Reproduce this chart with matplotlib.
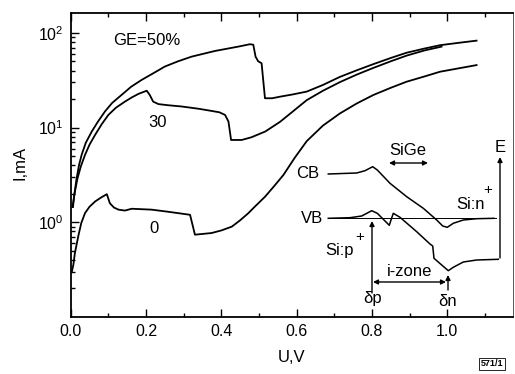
import matplotlib
matplotlib.use("Agg")
import matplotlib.pyplot as plt
import numpy as np

plt.rcParams['font.family'] = ['Liberation Sans', 'DejaVu Sans']
plt.rcParams['mathtext.default'] = 'regular'

# ---- data (U in V, I in mA) ----
u50 = [0.006, 0.009, 0.015, 0.022, 0.029, 0.04, 0.056, 0.072, 0.091, 0.11, 0.135, 0.16,
       0.188, 0.22, 0.25, 0.285, 0.321, 0.383, 0.445, 0.476, 0.485, 0.491, 0.498, 0.507,
       0.516, 0.535, 0.556, 0.59, 0.627, 0.67, 0.715, 0.76, 0.804, 0.85, 0.892, 0.94,
       0.981, 1.03, 1.078]
i50 = [1.45, 1.86, 2.8, 4.0, 5.15, 6.9, 9.1, 11.5, 14.8, 18.2, 22.1, 26.9,
       31.8, 37.6, 44.1, 50.1, 56.1, 64.4, 71.6, 75.9, 75.0, 56.1, 50.1, 47.8,
       20.4, 20.4, 21.2, 22.4, 24.0, 28.2, 34.3, 40.3, 46.8, 54.3, 61.7, 68.4,
       74.1, 78.5, 82.8]

u30 = [0.005, 0.01, 0.018, 0.027, 0.038, 0.05, 0.065, 0.082, 0.10, 0.12, 0.144, 0.163,
       0.18, 0.202, 0.21, 0.219, 0.233, 0.26, 0.295, 0.34, 0.374, 0.395, 0.41, 0.419,
       0.426, 0.454, 0.48, 0.517, 0.556, 0.59, 0.627, 0.67, 0.715, 0.76, 0.804, 0.85,
       0.892, 0.94, 0.985]
i30 = [1.45, 2.0, 2.9, 3.9, 5.15, 6.6, 8.4, 10.8, 13.6, 16.2, 18.8, 20.9,
       22.7, 24.5, 22.1, 18.8, 17.7, 17.2, 16.7, 15.8, 15.0, 14.5, 13.6, 11.6,
       7.4, 7.4, 7.9, 9.1, 11.5, 14.8, 19.5, 24.5, 30.2, 36.3, 42.7, 50.1,
       57.5, 65.3, 71.6]

u0 = [0.003, 0.007, 0.011, 0.02, 0.028, 0.038, 0.05, 0.065, 0.08, 0.096, 0.104, 0.115,
      0.127, 0.144, 0.162, 0.215, 0.26, 0.317, 0.33, 0.374, 0.40, 0.428, 0.45, 0.472,
      0.485, 0.516, 0.54, 0.565, 0.595, 0.627, 0.67, 0.715, 0.76, 0.804, 0.85, 0.892,
      0.94, 0.981, 1.03, 1.078]
i0 = [0.30, 0.355, 0.47, 0.71, 0.98, 1.25, 1.46, 1.66, 1.82, 1.98, 1.59, 1.43,
      1.36, 1.33, 1.39, 1.36, 1.29, 1.20, 0.74, 0.77, 0.82, 0.90, 1.05, 1.25,
      1.41, 1.86, 2.4, 3.16, 4.8, 7.2, 10.5, 14.1, 18.0, 22.1, 26.3, 30.5,
      34.7, 38.9, 42.2, 45.7]

curve_labels = ["GE=50%", "30", "0"]
xticks = [0.0, 0.2, 0.4, 0.6, 0.8, 1.0]

# band diagram sketch (figure pixel coordinates, origin top-left)
cb_x = [328.3, 356.7, 365, 372.7, 377.3, 390, 406.7, 423.3, 436.7, 442.7, 447.3, 453.3, 463.3, 476.7, 494]
cb_y = [174, 173, 170.7, 166.7, 170, 183.3, 196.7, 208.3, 220, 226, 227.3, 223.3, 220, 218.7, 218.3]
vb_x = [328.3, 350, 361.7, 371.7, 377.3, 383.3, 389.3, 391, 393.3, 400, 416.7, 430, 432.7, 434,
        441.7, 448.3, 453.3, 463.3, 476.7, 498.3]
vb_y = [218.3, 217.7, 216, 210.7, 213.3, 219.3, 225.3, 220, 213.3, 217.3, 231.7, 244, 246, 258.3,
        265, 270.7, 267.3, 262, 260, 259.3]

W, H = 515, 374
fig = plt.figure(figsize=(W / 100, H / 100), dpi=100)
L, R, T, B = 70.7, 513, 13, 317
ax = fig.add_axes([L / W, 1 - B / H, (R - L) / W, (B - T) / H])

for u, i in [(u50, i50), (u30, i30), (u0, i0)]:
    ax.plot(u, i, color='black', lw=1.3, solid_joinstyle='round')

ax.set_yscale('log')
ax.set_xlim(0, (R - L) / 376.5)
ax.set_ylim(0.1, 10 ** ((222.5 - 13) / 94.8))
ax.set_xticks(xticks)
ax.set_xticklabels([f"{v:.1f}" for v in xticks])
ax.set_xticks(np.arange(0.1, 1.15, 0.2), minor=True)
ax.set_yticks([1, 10, 100])
ax.set_yticklabels([r"$10^{0}$", r"$10^{1}$", r"$10^{2}$"])
ax.tick_params(which='both', direction='in', top=True, right=False, labelsize=11.5, width=1.0)
ax.tick_params(which='major', length=6, pad=5)
ax.tick_params(which='minor', length=3)
for s in ['left', 'bottom', 'top']:
    ax.spines[s].set_linewidth(1.3)
ax.spines['right'].set_linewidth(0.7)
ax.spines['right'].set_color('#555555')

ax.set_xlabel("U,V", fontsize=12, labelpad=8)
ax.set_ylabel("I,mA", fontsize=12)
ax.yaxis.set_label_coords((27 - L) / (R - L), (B - 163) / (B - T))

# overlay axes in pixel coordinates for the annotations & sketch
ov = fig.add_axes([0, 0, 1, 1], zorder=5)
ov.set_xlim(0, W)
ov.set_ylim(H, 0)
ov.axis('off')
ov.patch.set_alpha(0)

fs = 12
ov.text(147, 40, curve_labels[0], fontsize=fs, ha='center', va='center')
ov.text(158, 122, curve_labels[1], fontsize=fs, ha='center', va='center')
ov.text(154, 228, curve_labels[2], fontsize=fs, ha='center', va='center')

ov.plot(cb_x, cb_y, color='black', lw=1.1)
ov.plot(vb_x, vb_y, color='black', lw=1.1)
ov.plot([328, 496], [218.3, 218.3], color='black', lw=0.7)

ov.text(308, 173.5, "CB", fontsize=fs, ha='center', va='center')
ov.text(312, 218.5, "VB", fontsize=fs, ha='center', va='center')
ov.text(408, 150, "SiGe", fontsize=fs, ha='center', va='center')
ov.text(500, 147, "E", fontsize=fs, ha='center', va='center')
ov.text(471, 204, "Si:n", fontsize=fs, ha='center', va='center')
ov.text(488, 190, "+", fontsize=11, ha='center', va='center')
ov.text(340, 251, "Si:p", fontsize=fs, ha='center', va='center')
ov.text(360, 237, "+", fontsize=11, ha='center', va='center')
ov.text(410, 272, "i-zone", fontsize=fs, ha='center', va='center')
ov.text(373, 299, "δp", fontsize=fs, ha='center', va='center')
ov.text(448, 302, "δn", fontsize=fs, ha='center', va='center')

aprops = dict(arrowstyle='-|>', color='black', lw=1.0, mutation_scale=7, shrinkA=0, shrinkB=0)
dprops = dict(arrowstyle='<|-|>', color='black', lw=1.0, mutation_scale=7, shrinkA=0, shrinkB=0)
ov.annotate("", xy=(500, 157), xytext=(500, 258), arrowprops=aprops)
ov.annotate("", xy=(372, 221), xytext=(372, 293), arrowprops=aprops)
ov.annotate("", xy=(448, 275), xytext=(448, 290), arrowprops=aprops)
ov.annotate("", xy=(389, 163), xytext=(428, 163), arrowprops=dprops)
ov.annotate("", xy=(373, 282), xytext=(446, 282), arrowprops=dprops)

ov.text(492, 364, "571/1", fontsize=6.5, ha='center', va='center', fontweight='bold',
        bbox=dict(boxstyle='square,pad=0.15', fc='white', ec='black', lw=0.6))

fig.savefig("out.png", dpi=100)
